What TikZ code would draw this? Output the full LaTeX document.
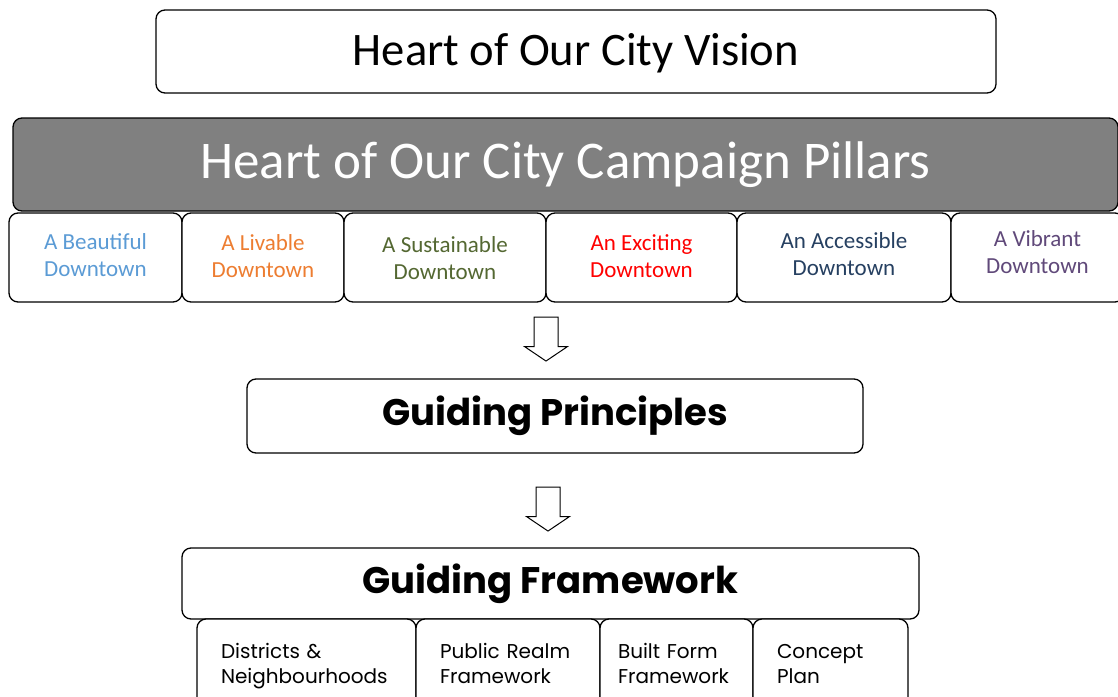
\documentclass[tikz,border=0pt]{standalone}
\usepackage{fontspec}
\setmainfont{Carlito}
\newfontfamily\gothic{Poppins}
\usetikzlibrary{shapes.arrows}

\definecolor{pillargray}{RGB}{128,128,128}
\definecolor{beautblue}{RGB}{91,155,213}
\definecolor{livorange}{RGB}{237,125,49}
\definecolor{sustgreen}{RGB}{84,104,50}
\definecolor{excitred}{RGB}{255,0,0}
\definecolor{accessblue}{RGB}{38,64,97}
\definecolor{vibpurple}{RGB}{96,73,122}

\begin{document}
\begin{tikzpicture}[x=1pt,y=-1pt,
    box/.style={draw=black, line width=1.3pt, rounded corners=9pt, fill=white, inner sep=0pt},
    pillarbox/.style={box, minimum height=89pt, align=center, font=\fontsize{23}{27}\selectfont},
    framebox/.style={box, minimum height=96.5pt, align=left, inner xsep=24pt,
        font=\gothic\fontsize{20}{25}\selectfont, execute at end node=\strut},
    blockarrow/.style={draw=black, line width=1pt, fill=white, single arrow, shape border rotate=270,
        minimum height=44pt, minimum width=42pt, single arrow head extend=9.5pt,
        single arrow tip angle=112, inner sep=11.5pt}]
    \useasboundingbox (0,0) rectangle (1118,696);

    % top boxes
    \node[box, minimum width=840pt, minimum height=83pt, font=\fontsize{46.6}{50}\selectfont] (vision) at (576,51.5)
        {\raisebox{-2pt}[\height][\depth]{Heart of Our City Vision}};
    \node[box, fill=pillargray, text=white, minimum width=1105pt, minimum height=93pt, font=\fontsize{53}{58}\selectfont] (pillars) at (565.5,164.5) {Heart of Our City Campaign Pillars};

    % the six pillars, \dy nudges the text down a little
    \foreach \n/\l/\r/\dy/\col/\txt in {1/9/182/0/beautblue/{A Beautiful\\Downtown},
                                        2/182/344/1/livorange/{A Livable\\Downtown},
                                        3/344/546/3/sustgreen/{A Sustainable\\Downtown},
                                        4/546/737/1/excitred/{An Exciting\\Downtown},
                                        5/737/951/-1/accessblue/{An Accessible\\Downtown},
                                        6/951/1124/-3/vibpurple/{A Vibrant\\Downtown}}
        \node[pillarbox, text=\col, minimum width={(\r-\l)*1pt}] (pillar\n) at ({(\l+\r)/2},257.5)
            {\raisebox{-\dy pt}[\height][\depth]{\begin{tabular}{@{}c@{}}\txt\end{tabular}}};

    \node[blockarrow] (arrow1) at (546,335) {};

    % guiding principles and framework
    \node[box, minimum width=616pt, minimum height=74pt, font=\gothic\bfseries\fontsize{37}{40}\selectfont] (principles) at (555,416) {Guiding Principles};

    \node[blockarrow] (arrow2) at (548,505) {};

    \node[box, minimum width=737pt, minimum height=71pt, font=\gothic\bfseries\fontsize{37}{40}\selectfont] (framework) at (550.5,583.5) {Guiding Framework};

    \node[framebox, text width=171pt] (districts) at (306.5,667.25) {Districts \&\\Neighbourhoods};
    \node[framebox, text width=136pt] (realm) at (508,667.25) {Public Realm\\Framework};
    \node[framebox, text width=117pt, inner xsep=18pt] (builtform) at (676.5,667.25) {Built Form\\Framework};
    \node[framebox, text width=107pt] (concept) at (830.5,667.25) {Concept\\Plan};
\end{tikzpicture}
\end{document}
